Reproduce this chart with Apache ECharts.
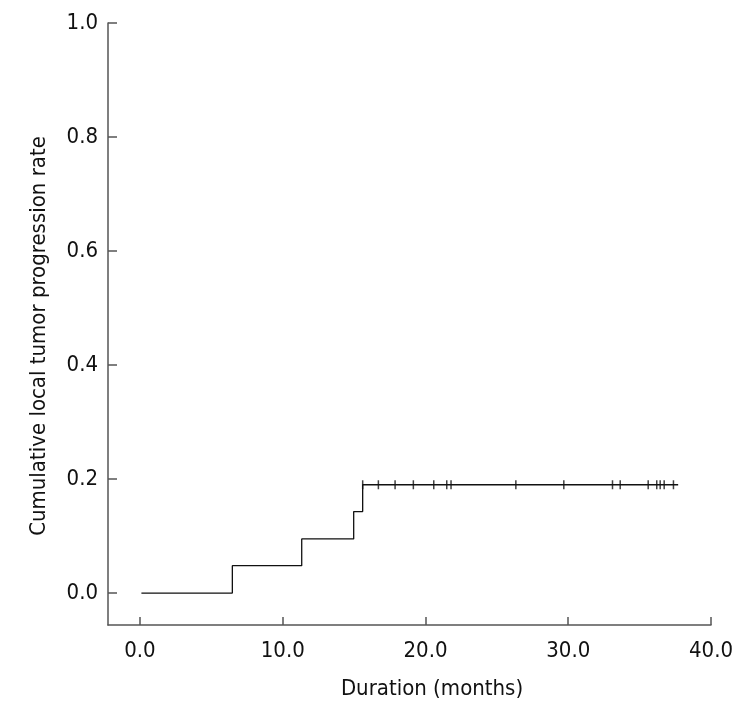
<!DOCTYPE html>
<html><head><meta charset="utf-8">
<script src="https://cdn.jsdelivr.net/npm/echarts@6/dist/echarts.min.js"></script>
<style>html,body{margin:0;padding:0;background:#fff}#c{width:755px;height:710px}</style>
</head><body><div id="c"></div>
<script>
const stepTimes = [0.1, 6.47, 11.33, 14.97, 15.6, 37.7];
const stepRates = [0, 0.048, 0.095, 0.143, 0.190, 0.190];
const censorTimes = [15.6, 16.7, 17.87, 19.15, 20.58, 21.49, 21.79, 26.33, 29.69, 33.1, 33.64, 35.6, 36.2, 36.44, 36.72, 37.37];
const censorRate = 0.190;
const xTicks = [0, 10, 20, 30, 40];
const yTicks = [0, 0.2, 0.4, 0.6, 0.8, 1.0];
const xTitle = 'Duration (months)';
const yTitle = 'Cumulative local tumor progression rate';

const FONT = 'DejaVu Sans Condensed';
const chart = echarts.init(document.getElementById('c'));
chart.setOption({
  animation: false,
  grid: {left: 108, right: 44, top: 23, bottom: 85},
  xAxis: {
    type: 'value', min: -2.24, max: 40,
    axisLine: {onZero: false, lineStyle: {color: '#555', width: 1.5}},
    axisTick: {inside: true, length: 8, lineStyle: {color: '#555', width: 1.5}, customValues: xTicks},
    axisLabel: {margin: 15, fontFamily: FONT, fontSize: 22, color: '#111', formatter: v => v.toFixed(1), customValues: xTicks},
    splitLine: {show: false}
  },
  yAxis: {
    type: 'value', min: -0.056, max: 1.0,
    axisLine: {show: true, onZero: false, lineStyle: {color: '#555', width: 1.5}},
    axisTick: {show: true, inside: true, length: 9, lineStyle: {color: '#555', width: 1.5}, customValues: yTicks},
    axisLabel: {margin: 10, fontFamily: FONT, fontSize: 22, color: '#111', formatter: v => v.toFixed(1), customValues: yTicks},
    splitLine: {show: false}
  },
  graphic: [
    {type: 'text', x: 432, y: 689, style: {text: xTitle, align: 'center', verticalAlign: 'middle', font: '22px "' + FONT + '"', fill: '#111'}},
    {type: 'text', x: 39, y: 336, rotation: Math.PI / 2, style: {text: yTitle, align: 'center', verticalAlign: 'middle', font: '22px "' + FONT + '"', fill: '#111'}}
  ],
  series: [
    {type: 'line', step: 'end', showSymbol: false, data: stepTimes.map((t, i) => [t, stepRates[i]]),
     lineStyle: {color: '#111', width: 1.3}},
    {type: 'scatter', symbol: 'rect', symbolSize: [1.5, 9], data: censorTimes.map(t => [t, censorRate]),
     itemStyle: {color: '#111'}}
  ]
});
</script></body></html>
